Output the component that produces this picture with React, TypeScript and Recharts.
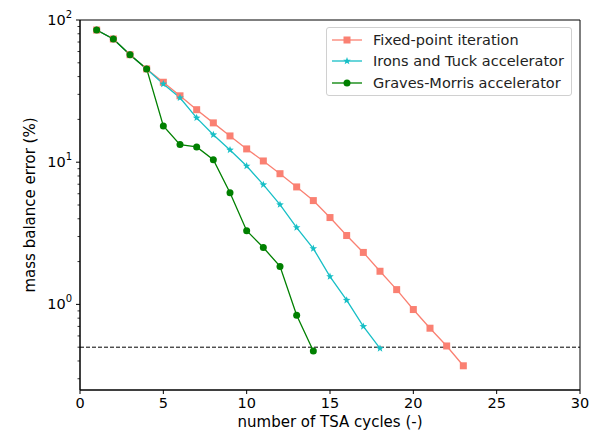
import { Line, LineChart, ReferenceArea, ReferenceLine, XAxis, YAxis } from "recharts"

const FONT = "'DejaVu Sans', sans-serif"
const FIXED = "#fa8072"
const IRONS = "#17bfc6"
const GRAVES = "#008000"

const cycles = [1, 2, 3, 4, 5, 6, 7, 8, 9, 10, 11, 12, 13, 14, 15, 16, 17, 18, 19, 20, 21, 22, 23]
const fixedPoint = [85, 73.5, 57, 45.3, 36.5, 29.3, 23.4, 18.9, 15.3, 12.4, 10.2, 8.3, 6.7, 5.37, 4.08, 3.05, 2.32, 1.71, 1.27, 0.92, 0.68, 0.51, 0.37]
const ironsTuck = [85, 73.5, 57, 45.3, 35.5, 28.4, 20.5, 15.6, 12.2, 9.4, 6.95, 5.03, 3.47, 2.47, 1.57, 1.07, 0.7, 0.49]
const gravesMorris = [85, 73.5, 57, 45.3, 18.0, 13.3, 12.8, 10.4, 6.1, 3.3, 2.51, 1.85, 0.84, 0.47]

const xTicks = [0, 5, 10, 15, 20, 25, 30]
const yMajor = [1, 10, 100]
const yTicks = [0.3, 0.4, 0.5, 0.6, 0.7, 0.8, 0.9, 1, 2, 3, 4, 5, 6, 7, 8, 9, 10, 20, 30, 40, 50, 60, 70, 80, 90, 100]
const threshold = 0.5

const rows = cycles.map((c, i) => ({
  cycle: c,
  fixed: fixedPoint[i],
  irons: ironsTuck[i],
  graves: gravesMorris[i],
}))

const legendItems = [
  { name: "Fixed-point iteration", color: FIXED, marker: "square" },
  { name: "Irons and Tuck accelerator", color: IRONS, marker: "star" },
  { name: "Graves-Morris accelerator", color: GRAVES, marker: "circle" },
]

function starPoints(cx: number, cy: number, r: number) {
  const pts: string[] = []
  for (let k = 0; k < 10; k++) {
    const rad = k % 2 === 0 ? r : r * 0.42
    const a = -Math.PI / 2 + (k * Math.PI) / 5
    pts.push(`${cx + rad * Math.cos(a)},${cy + rad * Math.sin(a)}`)
  }
  return pts.join(" ")
}

function Marker({ kind, cx, cy, color }: { kind: string; cx: number; cy: number; color: string }) {
  if (kind === "square") return <rect x={cx - 3.5} y={cy - 3.5} width={7} height={7} fill={color} />
  if (kind === "star") return <polygon points={starPoints(cx, cy, 4)} fill={color} />
  return <circle cx={cx} cy={cy} r={3.5} fill={color} />
}

const dotFor = (kind: string, color: string) => (props: any) => {
  const { cx, cy, value, index } = props
  if (value == null || cx == null || cy == null) return <g key={index} />
  return <g key={index}><Marker kind={kind} cx={cx} cy={cy} color={color} /></g>
}

function YTick(props: any) {
  const { x, y, payload } = props
  const v = payload.value
  const major = yMajor.includes(v)
  const exp = Math.round(Math.log10(v))
  return (
    <g>
      <line x1={x} x2={x - (major ? 4 : 2.5)} y1={y} y2={y} stroke="#000" strokeWidth={major ? 1 : 0.8} />
      {major && (
        <text x={x - 8} y={y + 5} textAnchor="end" fontFamily={FONT} fontSize={14.5} fill="#000">
          10<tspan dy={-7} fontSize={10}>{exp}</tspan>
        </text>
      )}
    </g>
  )
}

function LegendBox() {
  return (
    <div
      style={{
        position: "absolute",
        left: 326,
        top: 27,
        width: 246,
        boxSizing: "border-box",
        border: "1px solid #d0d0d0",
        borderRadius: 3,
        background: "#fff",
        padding: "1px 4px 1px 5px",
        fontFamily: FONT,
        fontSize: 14.5,
      }}
    >
      {legendItems.map((it) => (
        <div key={it.name} style={{ display: "flex", alignItems: "center", height: 21.5, whiteSpace: "nowrap" }}>
          <svg width={30} height={12} style={{ marginRight: 11, flexShrink: 0 }}>
            <line x1={0} x2={30} y1={6} y2={6} stroke={it.color} strokeWidth={1.3} />
            <Marker kind={it.marker} cx={15} cy={6} color={it.color} />
          </svg>
          <span style={{ color: "#222" }}>{it.name}</span>
        </div>
      ))}
    </div>
  )
}

export default function App() {
  return (
    <div style={{ position: "absolute", left: 0, top: 0, width: 597, height: 433, background: "#fff" }}>
      <LineChart width={597} height={433} data={rows} margin={{ top: 20, right: 17, left: 0, bottom: 0 }}>
        <XAxis
          dataKey="cycle"
          type="number"
          domain={[0, 30]}
          ticks={xTicks}
          height={43}
          tickSize={4}
          tickMargin={4}
          stroke="#000"
          tick={{ fontFamily: FONT, fontSize: 14.5, fill: "#000" }}
          label={{ value: "number of TSA cycles (-)", position: "insideBottom", offset: 6, fontFamily: FONT, fontSize: 15, fill: "#000" }}
        />
        <YAxis
          scale="log"
          domain={[0.25, 100]}
          allowDataOverflow
          ticks={yTicks}
          interval={0}
          width={80}
          tickSize={0}
          tickMargin={0}
          tickLine={false}
          stroke="#000"
          tick={<YTick />}
          label={{ value: "mass balance error (%)", angle: -90, position: "insideLeft", offset: 30, style: { textAnchor: "middle" }, fontFamily: FONT, fontSize: 15, fill: "#000" }}
        />
        <ReferenceArea x1={0} x2={30} y1={0.25} y2={100} fill="none" stroke="#000" strokeWidth={1} ifOverflow="visible" />
        <ReferenceLine y={threshold} stroke="#000" strokeDasharray="4 2" strokeWidth={1} />
        <Line dataKey="fixed" stroke={FIXED} strokeWidth={1.3} dot={dotFor("square", FIXED)} isAnimationActive={false} />
        <Line dataKey="irons" stroke={IRONS} strokeWidth={1.3} dot={dotFor("star", IRONS)} isAnimationActive={false} />
        <Line dataKey="graves" stroke={GRAVES} strokeWidth={1.3} dot={dotFor("circle", GRAVES)} isAnimationActive={false} />
      </LineChart>
      <LegendBox />
    </div>
  )
}
